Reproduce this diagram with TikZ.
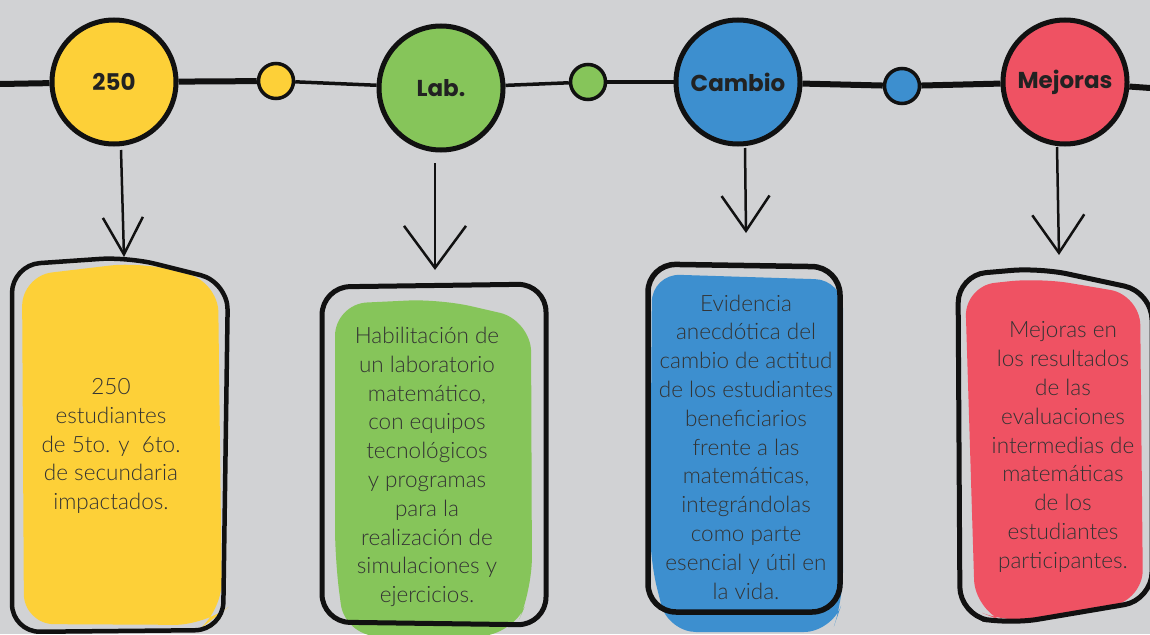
\documentclass[tikz,border=0pt]{standalone}
\usepackage{fontspec}
\setmainfont{Lato}
\newfontfamily\bodyfont{Lato Light}
\newfontfamily\labelfont{Poppins}
\usetikzlibrary{arrows.meta}
\definecolor{bg}{HTML}{D1D2D4}
\definecolor{cyel}{HTML}{FDD038}
\definecolor{cgrn}{HTML}{86C55A}
\definecolor{cblu}{HTML}{3D8FCF}
\definecolor{cred}{HTML}{EF5263}
\definecolor{ink}{HTML}{111111}
\definecolor{txt}{HTML}{333333}
\definecolor{lbl}{HTML}{222222}
\tikzset{
  bigc/.style={circle, draw=ink, line width=5pt, inner sep=0pt, minimum size=124pt,
    font=\labelfont\bfseries\fontsize{23}{25}\selectfont, text=lbl},
  smallc/.style={circle, draw=ink, line width=3.5pt, inner sep=0pt, minimum size=35pt},
  thickline/.style={draw=ink, line width=6pt},
  thinline/.style={draw=ink, line width=3.5pt},
  outline/.style={draw=ink, line width=4.5pt, rounded corners=28pt},
  bodytext/.style={align=center, text=txt, font=\bodyfont\fontsize{22.5}{28.8}\selectfont, inner sep=0pt},
  arr/.style={draw=ink, line width=2.5pt}
}
\begin{document}
\begin{tikzpicture}[x=1pt, y=-1pt]
\useasboundingbox (0,0) rectangle (1150,634);
\fill[bg] (0,0) rectangle (1150,634);

% timeline ends
\coordinate (L) at (0,84);
\coordinate (R) at (1150,88);

% circles
\node[bigc, fill=cyel] (c1) at (114,82) {250};
\node[smallc, fill=cyel] (s1) at (276,81) {};
\node[bigc, fill=cgrn] (c2) at (441,88) {Lab.};
\node[smallc, fill=cgrn] (s2) at (588,82) {};
\node[bigc, fill=cblu] (c3) at (738,82) {Cambio};
\node[smallc, fill=cblu] (s3) at (902,86) {};
\node[bigc, fill=cred] (c4) at (1065,82) {Mejoras};

% timeline segments
\draw[thickline] (L) -- (c1);
\draw[thickline] (c1) -- (s1);
\draw[thinline] (s1) -- (c2);
\draw[thinline] (c2) -- (s2);
\draw[thinline] (s2) -- (c3);
\draw[thickline] (c3) -- (s3);
\draw[thickline] (s3) -- (c4);
\draw[thickline] (c4) -- (R);

% boxes: fills
\fill[cyel, rounded corners=30pt] (22,276) -- (140,262) -- (218,282) -- (222,612) -- (205,625) -- (24,624) -- cycle;
\fill[cgrn, rounded corners=32pt] (335,304) -- (440,299) -- (531,320) -- (532,590) -- (512,636) -- (345,636) -- (335,560) -- cycle;
\fill[cblu, rounded corners=28pt] (652,274) -- (843,280) -- (843,600) -- (832,632) -- (668,632) -- (650,560) -- cycle;
\fill[cred, rounded corners=30pt] (965,286) -- (1040,278) -- (1140,295) -- (1143,600) -- (1010,624) -- (975,610) -- cycle;

% boxes: outlines
\draw[outline] (12,265) -- (128,257) -- (228,282) -- (223,630) -- (12,632) -- cycle;
\draw[outline, line width=5pt] (322,287) -- (546,284) -- (546,625) -- (322,622) -- cycle;
\draw[outline, line width=5.5pt] (648,264) -- (840,267) -- (840,612) -- (648,612) -- cycle;
\draw[outline, line width=5pt] (958,275) -- (1040,268) -- (1152,292) -- (1152,600) -- (1010,624) -- (960,615) -- cycle;

% texts
\node[bodytext] (b1) at (111,446) {250\\estudiantes\\de 5to. y~~6to.\\de secundaria\\impactados.};
\node[bodytext] (b2) at (427,467) {Habilitación de\\un laboratorio\\matemático,\\con equipos\\tecnológicos\\y programas\\para la\\realización de\\simulaciones y\\ejercicios.};
\node[bodytext] (b3) at (746,447) {Evidencia\\anecdótica del\\cambio de actitud\\de los estudiantes\\beneficiarios\\frente a las\\matemáticas,\\integrándolas\\como parte\\esencial y útil en\\la vida.};
\node[bodytext] (b4) at (1063,447) {Mejoras en\\los resultados\\de las\\evaluaciones\\intermedias de\\matemáticas\\de los\\estudiantes\\participantes.};

% arrows
\coordinate (a1) at (121,150); \coordinate (t1) at (124,257);
\coordinate (a2) at (435,163); \coordinate (t2) at (435,270);
\coordinate (a3) at (745,148); \coordinate (t3) at (746,233);
\coordinate (a4) at (1057,147); \coordinate (t4) at (1059,255);
\draw[arr, -{Straight Barb[length=37pt, width=40pt, line width=2.5pt]}] (a1) -- (t1);
\draw[arr, -{Straight Barb[length=42pt, width=62pt, line width=2.5pt]}] (a2) -- (t2);
\draw[arr, -{Straight Barb[length=35pt, width=48pt, line width=2.5pt]}] (a3) -- (t3);
\draw[arr, -{Straight Barb[length=38pt, width=52pt, line width=2.5pt]}] (a4) -- (t4);
\end{tikzpicture}
\end{document}
